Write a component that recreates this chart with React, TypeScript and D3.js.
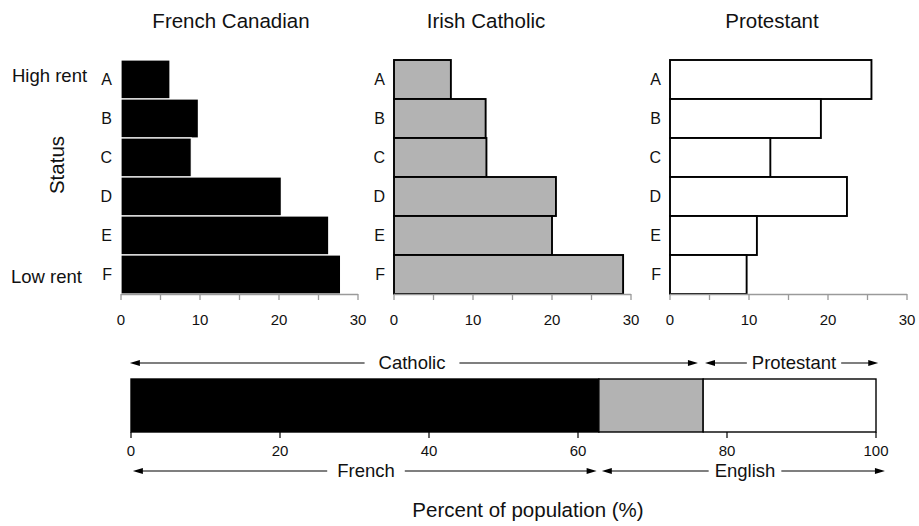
import React, { useMemo } from 'react';
import * as d3 from 'd3';

// status levels, high rent (A) to low rent (F)
const statusLevels = ['A', 'B', 'C', 'D', 'E', 'F'];
const frenchCanadian = [6.2, 9.8, 8.9, 20.3, 26.3, 27.8];
const irishCatholic = [7.2, 11.6, 11.7, 20.5, 20.0, 29.0];
const protestant = [25.5, 19.1, 12.7, 22.4, 11.0, 9.7];
const panelTitles = ['French Canadian', 'Irish Catholic', 'Protestant'];

// share of total population: French Canadian, Irish Catholic, Protestant
const populationShares = [62.8, 14.0, 23.2];
const religionLabels = ['Catholic', 'Protestant'];
const languageLabels = ['French', 'English'];
const statusEnds = ['High rent', 'Low rent'];

const W = 919;
const H = 526;
const FONT = '"Liberation Sans", Arial, Helvetica, sans-serif';
const FILLS = ['#000000', '#b3b3b3', '#ffffff'];
const AXIS_GREY = '#9a9a9a';

const panelLeft = [121, 394, 670];
const panelWidth = 237;
const titleX = [231, 486, 772];
const barTop = 60;
const barBottom = 294;

const stackLeft = 131;
const stackRight = 876;
const stackTop = 379;
const stackBottom = 432;

const measure = (() => {
  let ctx: CanvasRenderingContext2D | null = null;
  return (text: string, size: number) => {
    if (!ctx) ctx = document.createElement('canvas').getContext('2d');
    if (!ctx) return text.length * size * 0.55;
    ctx.font = `${size}px "Liberation Sans", Arial, sans-serif`;
    return ctx.measureText(text).width;
  };
})();

interface PanelProps {
  values: number[];
  left: number;
  fill: string;
  title: string;
  titleCx: number;
  dark: boolean;
}

const Panel: React.FC<PanelProps> = ({ values, left, fill, title, titleCx, dark }) => {
  const x = d3.scaleLinear().domain([0, 30]).range([left, left + panelWidth]);
  const y = d3.scaleBand<string>().domain(statusLevels).range([barTop, barBottom]).paddingInner(0);
  const ticks = x.ticks(6);

  return (
    <g>
      <text x={titleCx} y={27.5} textAnchor="middle" fontSize={20.5} fill="#111">{title}</text>
      {statusLevels.map((s, i) => (
        <rect
          key={s}
          x={x(0)}
          y={y(s)!}
          width={x(values[i]) - x(0)}
          height={y.bandwidth()}
          fill={fill}
          stroke={dark ? '#ffffff' : '#000000'}
          strokeWidth={dark ? 1.2 : 1.9}
        />
      ))}
      {statusLevels.map((s) => (
        <text key={s} x={left - 9} y={y(s)! + y.bandwidth() / 2} dy="0.36em" textAnchor="end" fontSize={16} fill="#111">
          {s}
        </text>
      ))}
      <line x1={x(0)} x2={x(30)} y1={barBottom + 0.5} y2={barBottom + 0.5} stroke={AXIS_GREY} strokeWidth={1.5} />
      {ticks.map((t) => (
        <g key={t}>
          <line x1={x(t)} x2={x(t)} y1={barBottom} y2={barBottom + 6} stroke={AXIS_GREY} strokeWidth={1.3} />
          {t % 10 === 0 && (
            <text x={x(t)} y={324.5} textAnchor="middle" fontSize={15} fill="#111">{t}</text>
          )}
        </g>
      ))}
    </g>
  );
};

interface SpanProps {
  x0: number;
  x1: number;
  y: number;
  label: string;
  textCx: number;
  baseline: number;
  gap: number;
}

// double-headed arrow with a label breaking the line
const ArrowSpan: React.FC<SpanProps> = ({ x0, x1, y, label, textCx, baseline, gap }) => {
  const size = 18.5;
  const tw = measure(label, size);
  const a = textCx - tw / 2 - gap;
  const b = textCx + tw / 2 + gap;
  return (
    <g>
      <line x1={x0 + 4} x2={a} y1={y} y2={y} stroke="#000" strokeWidth={1.1} />
      <line x1={b} x2={x1 - 4} y1={y} y2={y} stroke="#000" strokeWidth={1.1} />
      <polygon points={`${x0},${y} ${x0 + 10},${y - 3} ${x0 + 10},${y + 3}`} fill="#000" />
      <polygon points={`${x1},${y} ${x1 - 10},${y - 3} ${x1 - 10},${y + 3}`} fill="#000" />
      <text x={textCx} y={baseline} textAnchor="middle" fontSize={size} fill="#111">{label}</text>
    </g>
  );
};

export default function App() {
  const panels = [frenchCanadian, irishCatholic, protestant];

  const xb = useMemo(() => d3.scaleLinear().domain([0, 100]).range([stackLeft, stackRight]), []);
  const cum = Array.from(d3.cumsum(populationShares));
  const starts = [0, ...cum.slice(0, -1)];
  const catholicEnd = cum[1];
  const frenchEnd = cum[0];

  const religionSpans = [
    [-0.15, catholicEnd - 0.7],
    [catholicEnd + 0.25, 100.3],
  ];
  const languageSpans = [
    [0.25, frenchEnd - 0.3],
    [frenchEnd + 0.4, 101.2],
  ];
  const religionText = [412, 794];
  const languageText = [366, 745];
  const religionGap = [14, 5];
  const languageGap = [10, 6];

  return (
    <svg
      width={W}
      height={H}
      viewBox={`0 0 ${W} ${H}`}
      style={{ position: 'absolute', left: 0, top: 0, background: '#fff', fontFamily: FONT }}
    >
      <rect width={W} height={H} fill="#fff" />

      {/* status labels */}
      <text x={12} y={82} fontSize={18.5} fill="#111">{statusEnds[0]}</text>
      <text x={11} y={283} fontSize={18.5} fill="#111">{statusEnds[1]}</text>
      <text transform="translate(64,165) rotate(-90)" textAnchor="middle" fontSize={20.5} fill="#111">Status</text>

      {panels.map((vals, i) => (
        <Panel
          key={panelTitles[i]}
          values={vals}
          left={panelLeft[i]}
          fill={FILLS[i]}
          title={panelTitles[i]}
          titleCx={titleX[i]}
          dark={i === 0}
        />
      ))}

      {/* stacked population bar */}
      {populationShares.map((v, i) => (
        <rect
          key={i}
          x={xb(starts[i])}
          y={stackTop}
          width={xb(starts[i] + v) - xb(starts[i])}
          height={stackBottom - stackTop}
          fill={FILLS[i]}
          stroke="#000"
          strokeWidth={1.4}
        />
      ))}
      {xb.ticks(5).map((t) => (
        <g key={t}>
          <line x1={xb(t)} x2={xb(t)} y1={stackBottom} y2={stackBottom + 6} stroke="#000" strokeWidth={1.2} />
          <text x={xb(t)} y={455.5} textAnchor="middle" fontSize={15} fill="#111">{t}</text>
        </g>
      ))}

      {religionLabels.map((lab, i) => (
        <ArrowSpan
          key={lab}
          x0={xb(religionSpans[i][0])}
          x1={xb(religionSpans[i][1])}
          y={363}
          label={lab}
          textCx={religionText[i]}
          baseline={369}
          gap={religionGap[i]}
        />
      ))}
      {languageLabels.map((lab, i) => (
        <ArrowSpan
          key={lab}
          x0={xb(languageSpans[i][0])}
          x1={xb(languageSpans[i][1])}
          y={471}
          label={lab}
          textCx={languageText[i]}
          baseline={476.5}
          gap={languageGap[i]}
        />
      ))}

      <text x={528} y={517} textAnchor="middle" fontSize={20.5} fill="#111">Percent of population (%)</text>
    </svg>
  );
}
